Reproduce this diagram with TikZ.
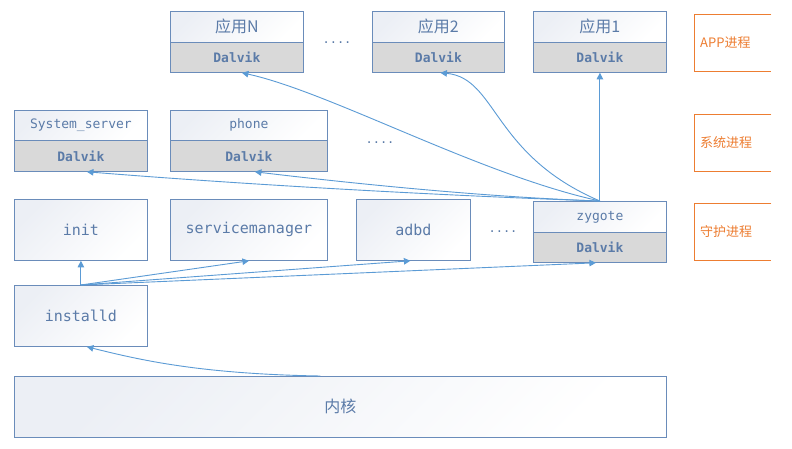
\documentclass[tikz,border=0pt]{standalone}
\usepackage{fontspec}
\setmonofont{DejaVu Sans Mono}
\newfontfamily\cjk{Noto Sans CJK SC}
\usetikzlibrary{arrows.meta}
\definecolor{bd}{HTML}{6A8CBA}
\definecolor{tx}{HTML}{5B7BA8}
\definecolor{ar}{HTML}{5B9BD5}
\definecolor{og}{HTML}{ED7D31}
\definecolor{gr}{HTML}{D9D9D9}
\definecolor{sh}{HTML}{ECEFF5}
\tikzset{
  box/.style={draw=bd, line width=0.8pt, top color=sh, bottom color=white, shading angle=45,
    anchor=north west, inner sep=0pt, text=tx, font=\ttfamily\fontsize{15}{15}\selectfont},
  small/.style={font=\ttfamily\fontsize{13}{13}\selectfont},
  cn/.style={font=\cjk\fontsize{16}{16}\selectfont},
  dv/.style={draw=bd, line width=0.8pt, fill=gr, anchor=north west, inner sep=0pt, text=tx,
    font=\ttfamily\bfseries\fontsize{13}{13}\selectfont, minimum height=30pt},
  dots/.style={text=tx, font=\ttfamily\fontsize{12}{12}\selectfont, inner sep=0pt},
  lab/.style={draw=none, anchor=north west, text=og, font=\cjk\fontsize{13}{13}\selectfont,
    text width=65pt, align=left, inner xsep=6pt, inner ysep=0pt, minimum height=57pt},
  obox/.style={draw=og, line width=0.9pt},
  arr/.style={draw=ar, line width=0.9pt, -{Triangle[length=6.5pt,width=6.5pt]}}
}
\begin{document}
\begin{tikzpicture}[x=1pt,y=-1pt]
\useasboundingbox[fill=white] (0,0) rectangle (792,449);
% applications
\node[box,cn,minimum width=133pt,minimum height=31pt] (appN) at (170,11) {应用N};
\node[dv,minimum width=133pt] (appNd) at (170,42) {Dalvik};
\node[box,cn,minimum width=132pt,minimum height=31pt] (app2) at (372,11) {应用2};
\node[dv,minimum width=132pt] (app2d) at (372,42) {Dalvik};
\node[box,cn,minimum width=133pt,minimum height=31pt] (app1) at (533,11) {应用1};
\node[dv,minimum width=133pt] (app1d) at (533,42) {Dalvik};
\node[dots] (d1) at (337,43) {....};
% system processes
\node[box,small,minimum width=133pt,minimum height=30pt] (sys) at (14,110) {System\_server};
\node[dv,minimum width=133pt,minimum height=31pt] (sysd) at (14,140) {Dalvik};
\node[box,small,minimum width=157pt,minimum height=30pt] (phone) at (170,110) {phone};
\node[dv,minimum width=157pt,minimum height=31pt] (phoned) at (170,140) {Dalvik};
\node[dots] (d2) at (380,143) {....};
% daemons
\node[box,minimum width=133pt,minimum height=61pt] (init) at (14,199) {init};
\node[box,minimum width=157pt,minimum height=61pt] (sm) at (170,199) {servicemanager};
\node[box,minimum width=114pt,minimum height=61pt] (adbd) at (356,199) {adbd};
\node[dots] (d3) at (503,232) {....};
\node[box,small,minimum width=133pt,minimum height=31pt] (zyg) at (533,201) {zygote};
\node[dv,minimum width=133pt] (zygd) at (533,232) {Dalvik};
\node[box,minimum width=133pt,minimum height=61pt] (inst) at (14,285) {installd};
\node[box,cn,minimum width=652pt,minimum height=61pt] (kern) at (14,376) {内核};
% orange labels
\node[lab] (l1) at (694,14) {APP进程};
\node[lab] (l2) at (694,114) {系统进程};
\node[lab] (l3) at (694,203) {守护进程};
\foreach \n in {l1,l2,l3}
  \draw[obox] (\n.north east) -- (\n.north west) -- (\n.south west) -- (\n.south east);
% connectors
\draw[arr] (zyg.north) -- (app1d.south);
\draw[arr] (zyg.north) .. controls (492,155) and (497,78) .. ([xshift=2pt]app2d.south);
\draw[arr] (zyg.north) .. controls (480,175) and (330,92) .. ([xshift=5pt]appNd.south);
\draw[arr] (zyg.north) .. controls (450,196) and (250,185) .. ([xshift=6pt]sysd.south);
\draw[arr] (zyg.north) .. controls (480,197) and (340,182) .. ([xshift=6pt]phoned.south);
\draw[arr] (inst.north) -- (init.south);
\draw[arr] (inst.north) -- (sm.south);
\draw[arr] (inst.north) -- ([xshift=-3pt]adbd.south);
\draw[arr] (inst.north) -- ([xshift=-4pt]zygd.south);
\draw[arr] ([xshift=-20pt]kern.north) .. controls (200,374) and (140,360) .. ([xshift=6pt]inst.south);
\end{tikzpicture}
\end{document}
